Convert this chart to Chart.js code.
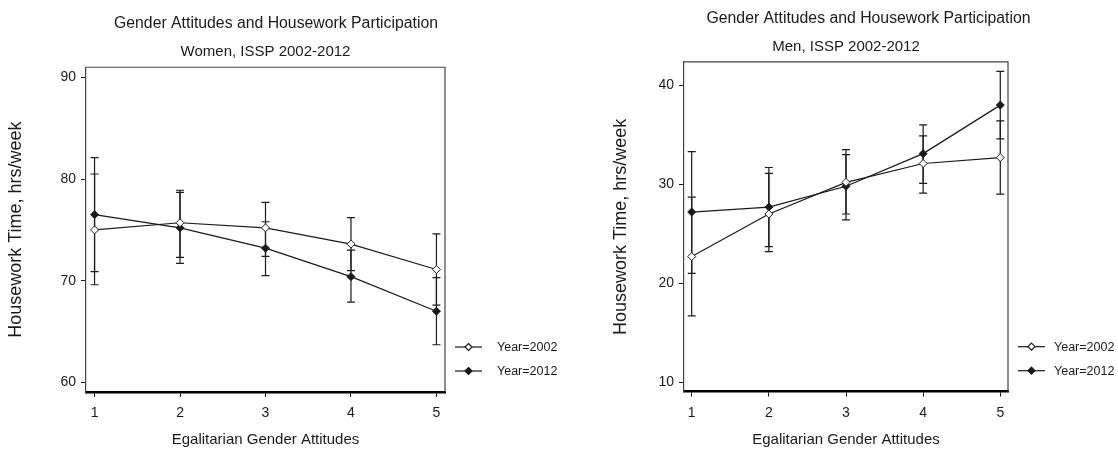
<!DOCTYPE html>
<html>
<head>
<meta charset="utf-8">
<script src="https://cdn.jsdelivr.net/npm/chart.js@4.4.1/dist/chart.umd.min.js"></script>
<style>
  html, body { margin: 0; padding: 0; background: #ffffff; overflow: hidden; width: 1118px; height: 453px; }
  .holder { position: absolute; top: 0; }
</style>
</head>
<body>
<div class="holder" style="left:0px"><canvas id="women" width="600" height="453"></canvas></div>
<div class="holder" style="left:559px"><canvas id="men" width="619" height="453"></canvas></div>
<script>
// x positions: egalitarian gender attitudes score
var attitudes = [1, 2, 3, 4, 5];
var seriesNames = ["Year=2002", "Year=2012"];

// Women, mean housework hours and 95% interval
var women2002 = [75.0, 75.7, 75.2, 73.6, 71.1];
var women2002Lo = [69.6, 72.3, 72.4, 71.0, 67.6];
var women2002Hi = [80.5, 78.9, 77.7, 76.2, 74.6];
var women2012 = [76.5, 75.2, 73.2, 70.4, 67.0];
var women2012Lo = [70.9, 71.7, 70.5, 67.9, 63.7];
var women2012Hi = [82.1, 78.7, 75.8, 73.0, 70.3];
var womenTicks = [60, 70, 80, 90];

// Men
var men2002 = [22.7, 27.0, 30.2, 32.1, 32.7];
var men2002Lo = [16.7, 23.2, 27.0, 29.1, 29.0];
var men2002Hi = [28.7, 31.1, 33.5, 34.9, 36.4];
var men2012 = [27.2, 27.7, 29.8, 33.1, 38.0];
var men2012Lo = [21.0, 23.7, 26.4, 30.1, 34.6];
var men2012Hi = [33.3, 31.7, 33.0, 36.0, 41.4];
var menTicks = [10, 20, 30, 40];

var FONT = "'Liberation Sans', Arial, sans-serif";
var INK = "#1a1a1a";

function toPoints(values)
{
    var pts = [];
    for (var i = 0; i < attitudes.length; i++) pts.push({x: attitudes[i], y: values[i]});
    return pts;
}

// vertical error bars with caps, drawn under the markers
var errorBars = {
    id: 'errorBars',
    beforeDatasetsDraw: function(chart)
    {
        var ctx = chart.ctx;
        var xs = chart.scales.x, ys = chart.scales.y;
        ctx.save();
        ctx.strokeStyle = INK;
        ctx.lineWidth = 1.2;
        chart.data.datasets.forEach(function(ds)
        {
            for (var i = 0; i < ds.errLo.length; i++)
            {
                var px = xs.getPixelForValue(attitudes[i]);
                var top = ys.getPixelForValue(ds.errHi[i]);
                var bot = ys.getPixelForValue(ds.errLo[i]);
                ctx.beginPath();
                ctx.moveTo(px, top); ctx.lineTo(px, bot);
                ctx.moveTo(px - 4, top); ctx.lineTo(px + 4, top);
                ctx.moveTo(px - 4, bot); ctx.lineTo(px + 4, bot);
                ctx.stroke();
            }
        });
        ctx.restore();
    }
};

// top and right side of the frame, plus the key to the right of the plot
var frameAndKey = {
    id: 'frameAndKey',
    afterDraw: function(chart)
    {
        var ctx = chart.ctx;
        var a = chart.chartArea;
        var textGap = chart.options.plugins.frameAndKey.textGap;
        ctx.save();
        ctx.strokeStyle = "#444";
        ctx.lineWidth = 1.2;
        ctx.beginPath();
        ctx.moveTo(a.left, a.top); ctx.lineTo(a.right, a.top); ctx.lineTo(a.right, a.bottom);
        ctx.stroke();

        ctx.font = "12.5px " + FONT;
        ctx.textBaseline = "middle";
        chart.data.datasets.forEach(function(ds, k)
        {
            var y = a.bottom - 45 + k * 24;
            var x0 = a.right + 10;
            ctx.strokeStyle = INK;
            ctx.lineWidth = 1.2;
            ctx.beginPath(); ctx.moveTo(x0, y); ctx.lineTo(x0 + 27, y); ctx.stroke();
            ctx.beginPath();
            ctx.moveTo(x0 + 13.5, y - 3.5); ctx.lineTo(x0 + 17, y); ctx.lineTo(x0 + 13.5, y + 3.5); ctx.lineTo(x0 + 10, y);
            ctx.closePath();
            ctx.fillStyle = ds.pointBackgroundColor;
            ctx.fill(); ctx.stroke();
            ctx.fillStyle = INK;
            ctx.fillText(ds.label, a.right + textGap, y + 1);
        });
        ctx.restore();
    }
};

function makeDataset(label, values, lo, hi, fill)
{
    return {
        label: label,
        data: toPoints(values),
        errLo: lo,
        errHi: hi,
        borderColor: INK,
        borderWidth: 1.2,
        pointStyle: 'rectRot',
        pointRadius: 4,
        pointBorderWidth: 1,
        pointBorderColor: INK,
        pointBackgroundColor: fill,
        tension: 0
    };
}

function drawPanel(canvasId, subtitle, sets, yMin, yMax, yTicks, box)
{
    var ctx = document.getElementById(canvasId).getContext('2d');
    return new Chart(ctx, {
        type: 'line',
        data: {datasets: sets},
        options: {
            responsive: false,
            animation: false,
            layout: {padding: {left: 0, right: box.padRight, top: 0, bottom: 0}},
            plugins: {
                legend: {display: false},
                tooltip: {enabled: false},
                frameAndKey: {textGap: box.textGap},
                title: {
                    display: true,
                    text: "Gender Attitudes and Housework Participation",
                    color: INK,
                    font: {family: FONT, size: 15.8, weight: 'normal'},
                    padding: {top: box.titleTop, bottom: 0}
                },
                subtitle: {
                    display: true,
                    fullSize: false,
                    text: subtitle,
                    color: INK,
                    font: {family: FONT, size: 15, weight: 'normal'},
                    padding: {top: box.subTop, bottom: box.subBottom}
                }
            },
            scales: {
                x: {
                    type: 'linear',
                    min: 0.9,
                    max: 5.1,
                    afterBuildTicks: function(s) { s.ticks = attitudes.map(function(v) { return {value: v}; }); },
                    afterFit: function(s) { s.height = box.xHeight; },
                    grid: {drawOnChartArea: false, drawTicks: true, tickLength: 5, color: INK, tickWidth: 1},
                    border: {display: true, color: "#000", width: 2.5},
                    ticks: {color: INK, padding: 8, font: {family: FONT, size: 14}},
                    title: {display: true, text: "Egalitarian Gender Attitudes", color: INK,
                            font: {family: FONT, size: 15}, padding: {top: 0, bottom: 4}}
                },
                y: {
                    type: 'linear',
                    min: yMin,
                    max: yMax,
                    afterBuildTicks: function(s) { s.ticks = yTicks.map(function(v) { return {value: v}; }); },
                    afterFit: function(s) { s.width = box.yWidth; },
                    grid: {drawOnChartArea: false, drawTicks: true, tickLength: 5, color: INK, tickWidth: 1},
                    border: {display: true, color: "#444", width: 1.2},
                    ticks: {color: INK, padding: 5, font: {family: FONT, size: 14}},
                    title: {display: true, text: "Housework Time, hrs/week", color: INK,
                            font: {family: FONT, size: 18}, padding: {top: box.yTitlePad, bottom: 0}}
                },
                // empty box on the right that holds the key
                keyRoom: {
                    type: 'linear',
                    position: 'right',
                    afterFit: function(s) { s.width = box.keyWidth; },
                    grid: {display: false},
                    border: {display: false},
                    ticks: {display: false}
                }
            }
        },
        plugins: [errorBars, frameAndKey]
    });
}

drawPanel('women', "Women, ISSP 2002-2012", [
    makeDataset(seriesNames[0], women2002, women2002Lo, women2002Hi, "#ffffff"),
    makeDataset(seriesNames[1], women2012, women2012Lo, women2012Hi, INK)
], 59.05, 91.0, womenTicks,
   {padRight: 48, keyWidth: 107, textGap: 52, titleTop: 14.5, subTop: 9.5, subBottom: 6.3,
    xHeight: 61, yWidth: 86, yTitlePad: 5});

drawPanel('men', "Men, ISSP 2002-2012", [
    makeDataset(seriesNames[0], men2002, men2002Lo, men2002Hi, "#ffffff"),
    makeDataset(seriesNames[1], men2012, men2012Lo, men2012Hi, INK)
], 9.05, 42.36, menTicks,
   {padRight: 0, keyWidth: 170, textGap: 46, titleTop: 9.5, subTop: 9.5, subBottom: 6,
    xHeight: 61.3, yWidth: 125, yTitlePad: 51});
</script>
</body>
</html>
